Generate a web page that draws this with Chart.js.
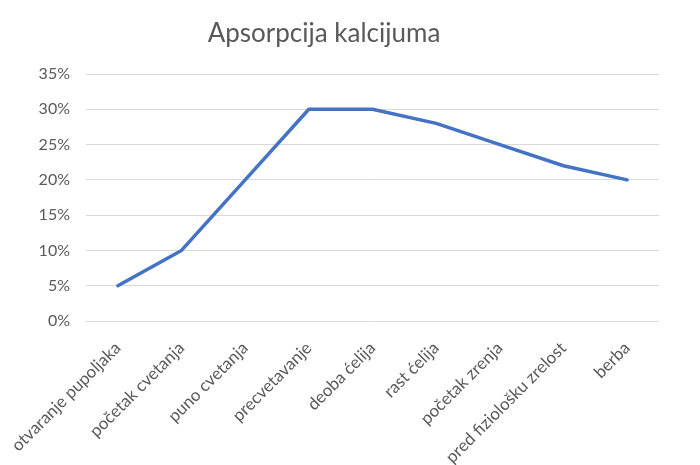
<!DOCTYPE html>
<html>
<head>
<meta charset="utf-8">
<script src="https://cdn.jsdelivr.net/npm/chart.js@4/dist/chart.umd.min.js"></script>
<style>
  html, body { margin: 0; padding: 0; background: #fff; }
  #wrap { width: 700px; height: 465px; position: relative; }
</style>
</head>
<body>
<div id="wrap"><canvas id="c" width="700" height="465"></canvas></div>
<script>
const titleText = "Apsorpcija kalcijuma";
const categories = ["otvaranje pupoljaka", "početak cvetanja", "puno cvetanja", "precvetavanje", "deoba ćelija", "rast ćelija", "početak zrenja", "pred fiziološku zrelost", "berba"];
const absorption = [5, 10, 20, 30, 30, 28, 25, 22, 20];
const yTicks = [0, 5, 10, 15, 20, 25, 30, 35];

const FONT = "Lato, 'Open Sans', sans-serif";
const TXT = "#595959";

const titlePlugin = {
  id: 'customTitle',
  afterDraw(chart) {
    const ctx = chart.ctx;
    ctx.save();
    ctx.font = "26px " + FONT;
    ctx.fillStyle = TXT;
    ctx.textAlign = "center";
    ctx.textBaseline = "alphabetic";
    ctx.fillText(titleText, 324, 42);
    ctx.restore();
  }
};

new Chart(document.getElementById('c'), {
  type: 'line',
  data: {
    labels: categories,
    datasets: [{
      data: absorption,
      borderColor: '#4472C4',
      borderWidth: 3.5,
      pointRadius: 0,
      tension: 0,
      fill: false,
      borderCapStyle: 'round',
      borderJoinStyle: 'round'
    }]
  },
  options: {
    responsive: false,
    animation: false,
    layout: { padding: { top: 74, right: 41, left: 0, bottom: 0 } },
    plugins: { legend: { display: false }, title: { display: false }, tooltip: { enabled: false } },
    scales: {
      x: {
        offset: true,
        grid: { display: false, drawTicks: false },
        border: { display: false },
        ticks: { color: TXT, font: { family: FONT, size: 17 }, maxRotation: 45, minRotation: 45, padding: 17, autoSkip: false },
        afterFit(s) { s.height = 144; s.paddingLeft = 0; s.paddingRight = 0; }
      },
      y: {
        min: 0, max: 35,
        afterBuildTicks(s) { s.ticks = yTicks.map(v => ({ value: v })); },
        grid: { color: '#d9d9d9', lineWidth: 1, drawTicks: false },
        border: { display: false },
        ticks: { color: TXT, font: { family: FONT, size: 16 }, padding: 16, callback: v => v + '%' },
        afterFit(s) { s.width = 86; s.paddingTop = 0; s.paddingBottom = 0; }
      }
    }
  },
  plugins: [titlePlugin]
});
</script>
</body>
</html>
